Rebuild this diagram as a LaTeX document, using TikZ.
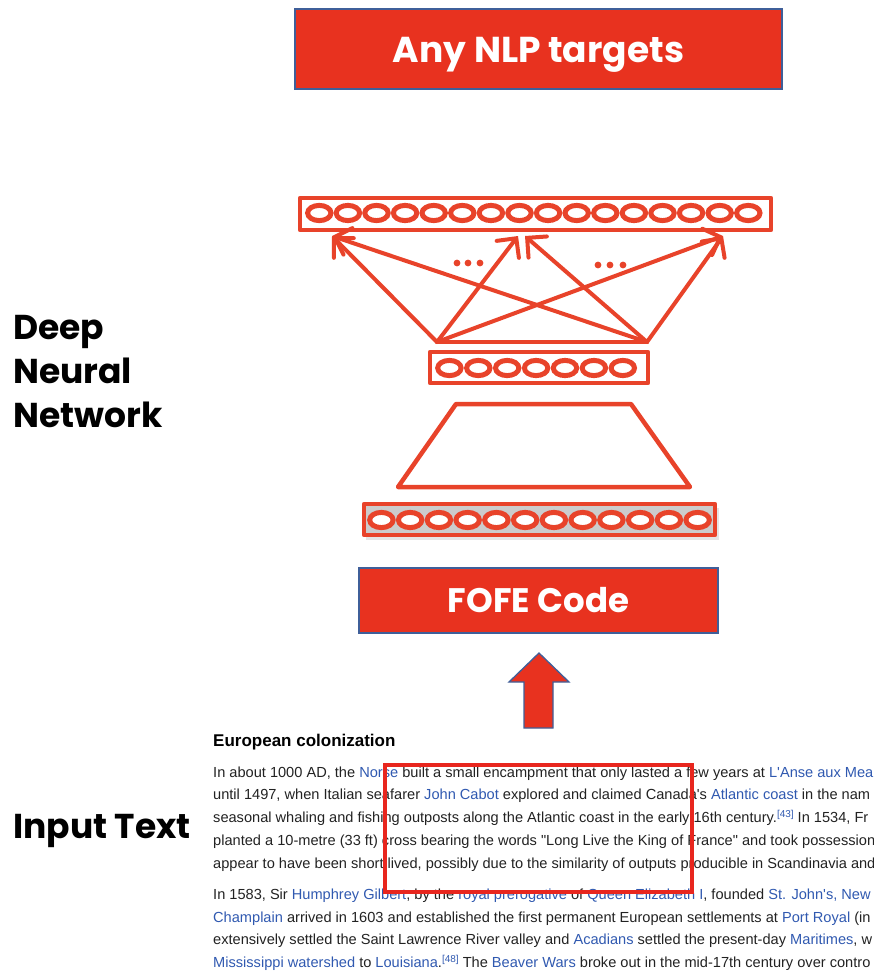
\documentclass[tikz,border=0pt]{standalone}
\usepackage{fontspec}
\setmainfont{Liberation Sans}[Ligatures=TeXOff]
\newfontfamily\geo{Poppins}
\usetikzlibrary{arrows.meta}

\definecolor{boxred}{HTML}{E8321F}
\definecolor{netred}{HTML}{E8432A}
\definecolor{edgeblue}{HTML}{3F5F99}
\definecolor{linkblue}{HTML}{3059B0}
\definecolor{bodytext}{HTML}{222222}
\definecolor{markred}{HTML}{E8261E}

\newcommand\wlink[1]{\textcolor{linkblue}{#1}}
\newcommand\wref[1]{\raisebox{5pt}{\fontsize{10}{10}\selectfont\textcolor{linkblue}{[#1]}}}

\begin{document}
\begin{tikzpicture}[x=1pt,y=-1pt,
  banner/.style={draw=edgeblue, line width=1.3pt, fill=boxred},
  bannertext/.style={anchor=base, inner sep=0pt, text=white,
    font=\geo\bfseries\fontsize{36}{40}\selectfont},
  sidelabel/.style={anchor=base west, inner sep=0pt, text=black,
    font=\geo\bfseries\fontsize{34.5}{38}\selectfont},
  layerbox/.style={draw=netred, line width=4.5pt, line join=round},
  cell/.style={draw=netred, line width=5pt, fill=white},
  netline/.style={draw=netred, line width=4pt, line cap=round, line join=round},
  netarrow/.style={netline, -{Straight Barb[length=14pt,width=28pt,line cap=round]}},
  bodyline/.style={anchor=base west, inner sep=0pt, text=bodytext,
    font=\fontsize{14.6}{16}\selectfont},
  blockarrow/.style={draw=edgeblue, line width=1.3pt, fill=boxred, line join=miter}]

\useasboundingbox (0,0) rectangle (874,972);

% output banner
\draw[banner] (295,9) rectangle (782,89);
\node[bannertext] (targets) at (538.5,62) {Any NLP targets};

% upper hidden layer (16 units)
\draw[layerbox] (300,198) rectangle (771,230);
\foreach \i in {0,...,15}
  \draw[cell] ({319.3+28.6*\i},213) ellipse [x radius=11.7pt, y radius=7.6pt];

% projection layer (7 units)
\draw[layerbox] (430,352) rectangle (648,383);
\foreach \i in {0,...,6}
  \draw[cell] ({449.4+28.9*\i},368) ellipse [x radius=11.7pt, y radius=7.6pt];

% fully connected arrows between the two layers
\coordinate (s1) at (437,342);
\coordinate (s2) at (647,342);
\coordinate (t1) at (332,236);
\coordinate (t2) at (518,236);
\coordinate (t3) at (525,236);
\coordinate (t4) at (723,236);
\draw[netline] (s1) -- (s2);
\draw[netarrow] (s1) -- (t1);
\draw[netarrow] (s1) -- (t2);
\draw[netarrow] (s1) -- (t4);
\draw[netarrow] (s2) -- (t1);
\draw[netarrow] (s2) -- (t3);
\draw[netarrow] (s2) -- (t4);

% ellipsis dots
\foreach \x in {457,468,480}
  \fill[netred] (\x,263) circle [radius=3.4pt];
\foreach \x in {598,610,623}
  \fill[netred] (\x,265) circle [radius=3.4pt];

% reduction block
\draw[layerbox] (456,404) -- (631,404) -- (690,487) -- (398,487) -- cycle;

% input layer (12 units)
\fill[gray!20] (366,508) rectangle (719,540);
\draw[layerbox, fill=gray!40] (364,504) rectangle (715,535);
\foreach \i in {0,...,11}
  \draw[cell] ({381.4+28.75*\i},520) ellipse [x radius=11.7pt, y radius=7.6pt];

% FOFE code banner
\draw[banner] (359,568) rectangle (718,633);
\node[bannertext, font=\geo\bfseries\fontsize{34}{38}\selectfont] (fofe) at (538.5,612) {FOFE Code};

% block arrow from text to code
\draw[blockarrow] (539,653) -- (569,682) -- (553,682) -- (553,728)
  -- (524,728) -- (524,682) -- (509,682) -- cycle;

% side labels
\node[sidelabel] (deep) at (13,339) {Deep};
\node[sidelabel] (neural) at (13,383) {Neural};
\node[sidelabel] (network) at (13,427) {Network};
\node[sidelabel] (input) at (13,838) {Input Text};

% article excerpt
\node[anchor=base west, inner sep=0pt, text=black,
  font=\bfseries\fontsize{17}{20}\selectfont] (heading) at (213,746) {European colonization};
\begin{scope}
\clip (0,0) rectangle (874,972);
\node[bodyline] (l1) at (213,777) {In about 1000 AD, the \wlink{Norse} built a small encampment that only lasted a few years at \wlink{L'Anse aux Mea}};
\node[bodyline] (l2) at (213,799) {until 1497, when Italian seafarer \wlink{John Cabot} explored and claimed Canada's \wlink{Atlantic coast} in the nam};
\node[bodyline] (l3) at (213,822) {seasonal whaling and fishing outposts along the Atlantic coast in the early 16th century.\wref{43} In 1534, Fr};
\node[bodyline] (l4) at (213,845) {planted a 10-metre (33 ft) cross bearing the words "Long Live the King of France" and took possession};
\node[bodyline] (l5) at (213,868) {appear to have been short lived, possibly due to the similarity of outputs producible in Scandinavia and};
\node[bodyline] (l6) at (213,899) {In 1583, Sir \wlink{Humphrey Gilbert}, by the \wlink{royal prerogative} of \wlink{Queen Elizabeth I}, founded \wlink{St. John's, New}};
\node[bodyline] (l7) at (213,922) {\wlink{Champlain} arrived in 1603 and established the first permanent European settlements at \wlink{Port Royal} (in};
\node[bodyline] (l8) at (213,944) {extensively settled the Saint Lawrence River valley and \wlink{Acadians} settled the present-day \wlink{Maritimes}, w};
\node[bodyline] (l9) at (213,967) {\wlink{Mississippi watershed} to \wlink{Louisiana}.\wref{48} The \wlink{Beaver Wars} broke out in the mid-17th century over contro};
\end{scope}

% highlighted window over the text
\draw[markred, line width=3.5pt] (385,765) rectangle (692,892);

\end{tikzpicture}
\end{document}
